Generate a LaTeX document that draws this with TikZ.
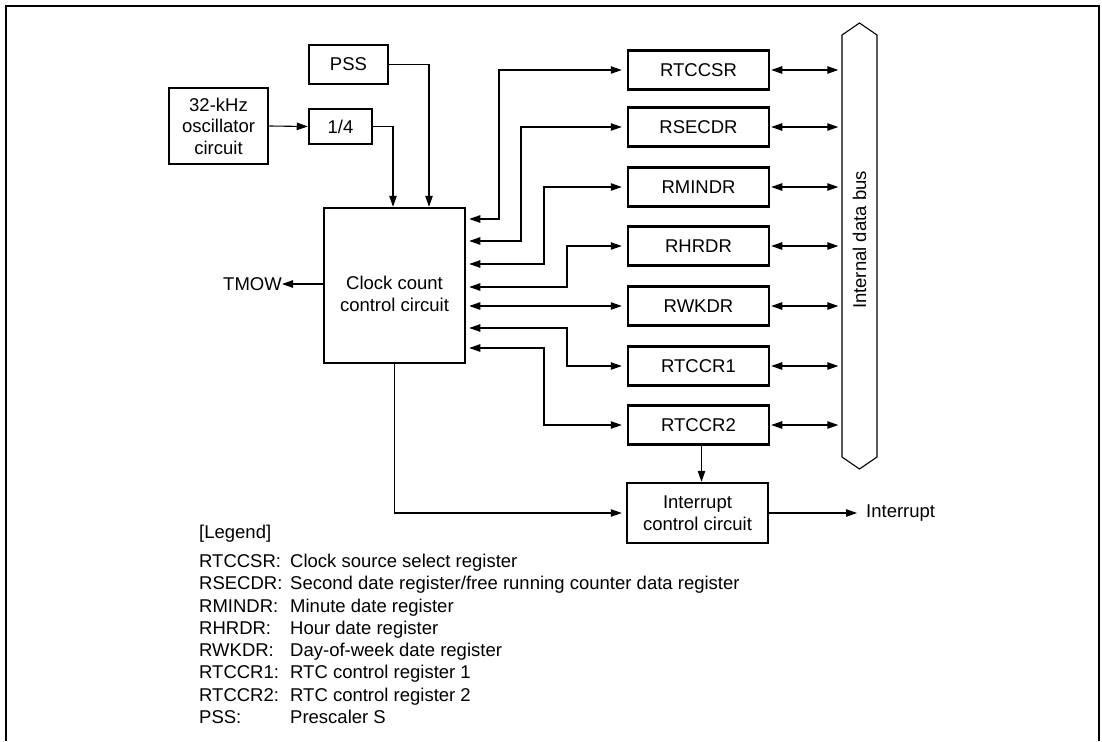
\documentclass[tikz,border=0pt]{standalone}
\usepackage{fontspec}
\setmainfont{Liberation Sans}
\usetikzlibrary{arrows.meta}
\begin{document}
\begin{tikzpicture}[x=1pt,y=-1pt,
  box/.style={draw, line width=2.5pt, inner sep=0pt, align=center, font=\fontsize{18.5}{21.5}\selectfont},
  reg/.style={box, minimum width=141, minimum height=39},
  conn/.style={line width=1.1pt},
  tip/.style={-{Triangle[length=11pt,width=7.5pt]}},
  both/.style={{Triangle[length=11pt,width=7.5pt]}-{Triangle[length=11pt,width=7.5pt]}},
  txt/.style={font=\fontsize{18.5}{21.5}\selectfont, inner sep=0pt, align=center}
]
\useasboundingbox (0,0) rectangle (1102,741);
\draw[line width=1.8pt] (6,741) -- (6,6) -- (1099,6) -- (1099,741);

% boxes
\node[box, minimum width=79, minimum height=39] (pss) at (348.5,64.5) {PSS};
\node[box, minimum width=99, minimum height=76] (osc) at (218.5,126) {32-kHz\\oscillator\\circuit};
\node[box, minimum width=63, minimum height=35] (quarter) at (340.5,126.5) {1/4};
\node[box, minimum width=141, minimum height=155] (main) at (394.5,285.5) {};
\node[txt] (maintext) at (394.5,294) {Clock count\\control circuit};

\node[reg] (r1) at (698.5,70) {RTCCSR};
\node[reg] (r2) at (698.5,127) {RSECDR};
\node[reg] (r3) at (698.5,187) {RMINDR};
\node[reg] (r4) at (698.5,246) {RHRDR};
\node[reg] (r5) at (698.5,306) {RWKDR};
\node[reg] (r6) at (698.5,366) {RTCCR1};
\node[reg] (r7) at (698.5,425) {RTCCR2};

\node[box, minimum width=141, minimum height=60] (intr) at (697.5,513) {Interrupt\\control circuit};

% bus
\draw[line width=1.1pt] (842,35) -- (859.5,23) -- (877,35) -- (877,457) -- (859.5,469) -- (842,457) -- cycle;
\node[txt, rotate=90] (bus) at (859.5,240) {Internal data bus};

% inputs
\draw[conn,tip] (osc.east) -- (quarter.west);
\draw[conn,tip] (quarter.east) -| ([xshift=-1.5pt]main.north);
\draw[conn,tip] (pss.east) -| ([xshift=34.5pt]main.north);

% TMOW
\node[txt, anchor=east] (tmow) at (282,284) {TMOW};
\draw[conn,tip] (main.west |- tmow.east) -- (tmow.east);

% register connections
\foreach \r/\ym/\xv in {r1/219/499, r2/241/521, r3/264/544, r4/287/567, r6/328/567, r7/348/544}{
  \draw[conn,both,shorten <=3pt,shorten >=5pt] (main.east |- 0,\ym) -- (\xv,\ym) |- (\r.west);
}
\draw[conn,both,shorten <=3pt,shorten >=5pt] (main.east |- r5.west) -- (r5.west);

% bus connections
\foreach \r in {r1,r2,r3,r4,r5,r6,r7}{
  \draw[conn,both,shorten <=1pt] (\r.east) -- ++(68,0);
}

% interrupt
\draw[conn,tip,shorten >=4pt] (main.south) |- (intr.west);
\draw[conn,tip] ([xshift=3pt]r7.south) -- ([xshift=3pt]r7.south |- intr.north);
\node[txt, anchor=west] (intout) at (866,513) {Interrupt};
\draw[conn,tip,shorten >=9pt] (intr.east) -- (intout.west);

% legend
\node[txt, anchor=base west] (leg) at (199,538) {[Legend]};
\foreach \a/\b [count=\i from 0] in {RTCCSR:/Clock source select register,
  RSECDR:/Second date register\slash free running counter data register,
  RMINDR:/Minute date register,
  RHRDR:/Hour date register,
  RWKDR:/Day-of-week date register,
  RTCCR1:/RTC control register 1,
  RTCCR2:/RTC control register 2,
  PSS:/Prescaler S}{
  \node[txt, anchor=base west] (la\i) at (199,567.4+22.3*\i) {\a};
  \node[txt, anchor=base west] (lb\i) at (290,567.4+22.3*\i) {\b};
}
\end{tikzpicture}
\end{document}
